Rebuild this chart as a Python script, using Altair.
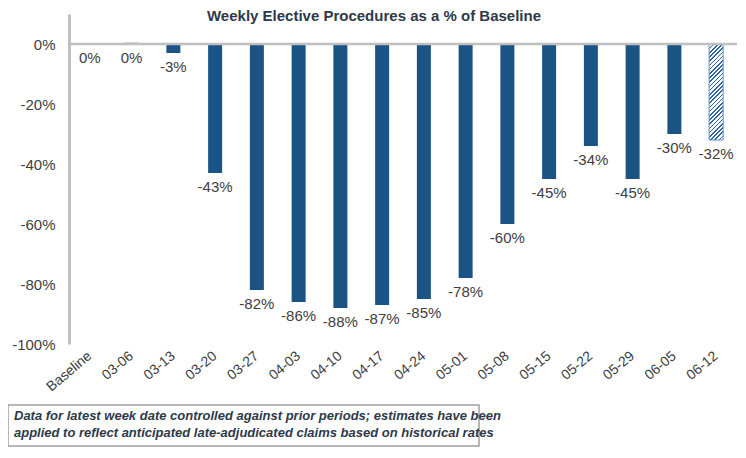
import altair as alt
import pandas as pd

# ---- data ----
categories = ["Baseline", "03-06", "03-13", "03-20", "03-27", "04-03", "04-10", "04-17",
              "04-24", "05-01", "05-08", "05-15", "05-22", "05-29", "06-05", "06-12"]
values = [0, 0.4, -3, -43, -82, -86, -88, -87, -85, -78, -60, -45, -34, -45, -30, -32]
estimated = [False] * 15 + [True]
y_ticks = list(range(-100, 11, 10))
title_text = "Weekly Elective Procedures as a % of Baseline"
note_lines = ["Data for latest week date controlled against prior periods; estimates have been",
              "applied to reflect anticipated late-adjudicated claims based on historical rates"]

df = pd.DataFrame({"week": categories, "v": values, "est": estimated})

W, H = 668, 330
BAR = 14
BLUE = "#1b5384"
GRAY = "#bfbfbf"
TXT = "#404040"
FONT = "Liberation Sans"

x_enc = alt.X("week:N", sort=categories, title=None,
              scale=alt.Scale(paddingInner=0.66, paddingOuter=0.33),
              axis=alt.Axis(domain=False, ticks=False, labelAngle=-40, labelAlign="right",
                            labelBaseline="middle", labelPadding=10, labelFontSize=14,
                            labelColor=TXT, labelFont=FONT))
y_scale = alt.Scale(domain=[-100, 10], nice=False)
y_enc = alt.Y("v:Q", scale=y_scale, title=None,
              axis=alt.Axis(values=y_ticks, labelExpr="datum.value + '%'", grid=False, ticks=False,
                            domainColor=GRAY, domainWidth=3, labelPadding=14, labelFontSize=15,
                            labelColor=TXT, labelFont=FONT))

base = alt.Chart(df)

bars = base.transform_filter("!datum.est").mark_bar(size=BAR, color=BLUE).encode(
    x=x_enc, y=y_enc, y2=alt.datum(0))

# hatched fill for the estimated week (diagonal stripes via a sharp-stop gradient)
r = (32 * H / 110) / BAR
D = BAR * (1 + r * r)
P, S = 4.2, 1.6
stops = []
k = 0
while k * P < BAR + 32 * H / 110 + P:
    a = k * P / D
    b = (k * P + S) / D
    c = (k + 1) * P / D
    stops += [alt.GradientStop(offset=min(a, 1), color="#2f65a3"),
              alt.GradientStop(offset=min(b, 1), color="#2f65a3"),
              alt.GradientStop(offset=min(b, 1), color="#ffffff"),
              alt.GradientStop(offset=min(c, 1), color="#ffffff")]
    k += 1
hatch = alt.LinearGradient(gradient="linear", stops=stops, x1=0, y1=0, x2=1, y2=r)

hatched = base.transform_filter("datum.est").mark_bar(
    size=BAR, fill=hatch, stroke="#5b8cc8", strokeWidth=1).encode(
    x=x_enc, y=y_enc, y2=alt.datum(0))

labels = base.transform_calculate(
    lab="round(datum.v) + '%'", pos="min(datum.v, 0)"
).mark_text(baseline="middle", dy=14, fontSize=15, color=TXT, font=FONT).encode(
    x=x_enc, y=alt.Y("pos:Q", scale=y_scale), text="lab:N")

zero = alt.Chart(alt.Data(values=[{"z": 0}])).mark_rule(color=GRAY, strokeWidth=2.5).encode(
    y=alt.Y("z:Q", scale=y_scale))

title = alt.Chart(alt.Data(values=[{"t": title_text}])).mark_text(
    fontSize=15, fontWeight="bold", color="#2e3a48", font=FONT, baseline="middle", align="center"
).encode(text="t:N", x=alt.value(305), y=alt.value(2))

box = alt.Chart(alt.Data(values=[{"b": 1}])).mark_rect(
    fill="white", stroke="#a0a0a0", strokeWidth=1.5
).encode(x=alt.value(-61), x2=alt.value(410), y=alt.value(391), y2=alt.value(432))

note = alt.Chart(alt.Data(values=[{"n": "\n".join(note_lines)}])).mark_text(
    fontSize=13, fontWeight="bold", fontStyle="italic", color="#2e3a48", font=FONT,
    align="left", baseline="top", lineBreak="\n", lineHeight=17
).encode(text="n:N", x=alt.value(-55), y=alt.value(396))

chart = alt.layer(bars, hatched, zero, labels, title, box, note).properties(
    width=W, height=H,
    autosize=alt.AutoSizeParams(type="none"),
    padding={"left": 61, "top": 6, "right": 0, "bottom": 104},
).configure_view(stroke=None)

chart.save("out.html", embed_options={"renderer": "svg", "actions": False})
